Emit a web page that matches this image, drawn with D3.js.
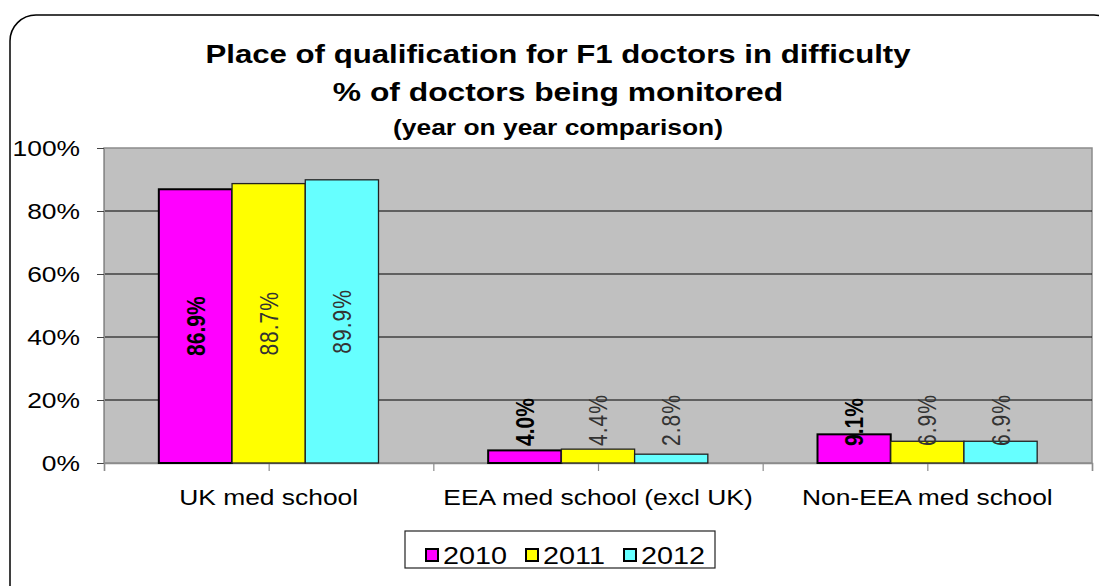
<!DOCTYPE html>
<html>
<head>
<meta charset="utf-8">
<script src="https://cdn.jsdelivr.net/npm/d3@7"></script>
<style>
  html, body { margin: 0; padding: 0; background: #fff; }
  text { font-family: "Liberation Sans", Arial, sans-serif; }
</style>
</head>
<body>
<div id="chart"></div>
<script>
// data
const categories = ["UK med school", "EEA med school (excl UK)", "Non-EEA med school"]
const years = ["2010", "2011", "2012"]
const values2010 = [86.9, 4.0, 9.1]
const values2011 = [88.7, 4.4, 6.9]
const values2012 = [89.9, 2.8, 6.9]
const yTicks = [0, 20, 40, 60, 80, 100]
const titleLines = ["Place of qualification for F1 doctors in difficulty", "% of doctors being monitored", "(year on year comparison)"]

const colors = {"2010": "#ff00ff", "2011": "#ffff00", "2012": "#66ffff"}
const series = {"2010": values2010, "2011": values2011, "2012": values2012}

const width = 1099
const height = 586
const margin = {top: 148, bottom: 123, left: 104, right: 7}
const sx = 1.2 // the original picture is stretched sideways

const svg = d3.select("div#chart").append("svg").attr("width", width).attr("height", height)

// outer frame
svg.append("rect")
    .attr("x", 10).attr("y", 15).attr("width", 1110).attr("height", 620)
    .attr("rx", 26).attr("ry", 26)
    .attr("fill", "none").attr("stroke", "#000").attr("stroke-width", 1.5)

// title
const titleSizes = [26, 26.5, 22]
const titleY = [63, 101, 135]
titleLines.forEach((t, i) => {
    svg.append("text")
        .attr("transform", `translate(558, ${titleY[i]}) scale(${sx},1)`)
        .attr("text-anchor", "middle")
        .attr("font-weight", "bold")
        .attr("font-size", titleSizes[i])
        .text(t)
})

const x0 = d3.scaleBand().domain(categories).range([margin.left, width - margin.right]).padding(0)
const groupW = x0.bandwidth() * 0.667
const x1 = d3.scaleBand().domain(years).range([0, groupW]).padding(0)
const y = d3.scaleLinear().domain([0, 100]).range([height - margin.bottom, margin.top])

// plot area
svg.append("rect")
    .attr("x", margin.left).attr("y", y(100))
    .attr("width", width - margin.right - margin.left).attr("height", y(0) - y(100))
    .attr("fill", "#c0c0c0").attr("stroke", "#8c8c8c").attr("stroke-width", 1.5)

// gridlines
svg.append("g").selectAll("line")
    .data(yTicks.filter(d => d > 0 && d < 100))
    .join("line")
    .attr("x1", margin.left).attr("x2", width - margin.right)
    .attr("y1", d => y(d)).attr("y2", d => y(d))
    .attr("stroke", "#000").attr("stroke-width", 1.2)

// y axis
const yAxisGroup = svg.append("g").attr("transform", `translate(${margin.left},0)`)
yAxisGroup.call(d3.axisLeft(y).tickValues(yTicks).tickSize(7).tickFormat(d => d + "%"))
yAxisGroup.select(".domain").attr("stroke", "#8c8c8c")
yAxisGroup.selectAll(".tick line").attr("stroke", "#444")
yAxisGroup.selectAll(".tick text")
    .attr("x", -20).attr("dy", "0.36em")
    .attr("transform", `scale(${sx},1)`)
    .attr("font-size", 22).attr("fill", "#000")
    .style("font-family", "'Liberation Sans', Arial, sans-serif")

// x axis ticks at category edges and centres
const xi = d3.scaleLinear().domain([0, categories.length]).range([margin.left, width - margin.right])
const xAxisGroup = svg.append("g").attr("transform", `translate(0, ${y(0)})`)
xAxisGroup.call(d3.axisBottom(xi).tickValues(d3.range(0, categories.length + 0.5, 0.5)).tickSize(8).tickFormat(""))
xAxisGroup.select(".domain").attr("stroke", "#8c8c8c").attr("stroke-width", 1.5)
xAxisGroup.selectAll(".tick line").attr("stroke", "#8c8c8c").attr("stroke-width", 1.2)

// category labels
svg.append("g").selectAll("text")
    .data(categories)
    .join("text")
    .attr("transform", d => `translate(${x0(d) + x0.bandwidth() / 2}, 505) scale(${sx},1)`)
    .attr("text-anchor", "middle")
    .attr("font-size", 22)
    .text(d => d)

// bars
const groups = svg.append("g").selectAll("g")
    .data(categories)
    .join("g")
    .attr("transform", d => `translate(${x0(d) + (x0.bandwidth() - groupW) / 2},0)`)

groups.selectAll("rect")
    .data((c, i) => years.map(yr => ({year: yr, value: series[yr][i]})))
    .join("rect")
    .attr("x", d => x1(d.year))
    .attr("y", d => y(d.value))
    .attr("width", x1.bandwidth())
    .attr("height", d => y(0) - y(d.value))
    .attr("fill", d => colors[d.year])
    .attr("stroke", d => d.year == "2010" ? "#000" : "#222")
    .attr("stroke-width", d => d.year == "2010" ? 2 : 1.3)

// value labels (rotated)
groups.selectAll("text.val")
    .data((c, i) => years.map(yr => ({year: yr, value: series[yr][i]})))
    .join("text")
    .attr("class", "val")
    .attr("font-size", 21)
    .attr("font-weight", d => d.year == "2010" ? "bold" : "normal")
    .attr("fill", d => d.year == "2010" ? "#000" : "#333")
    .attr("letter-spacing", d => d.year == "2010" ? 0 : 1)
    .attr("text-anchor", "start")
    .attr("dy", "0.36em")
    .text(d => d.value.toFixed(1) + "%")
    .each(function(d) {
        const len = this.getComputedTextLength()
        const cx = x1(d.year) + x1.bandwidth() / 2
        const startY = Math.min(y(d.value / 2) + len / 2, y(0) - 17)
        d3.select(this).attr("transform", `translate(${cx}, ${startY}) scale(${sx},1) rotate(-90)`)
    })

// legend
const legend = svg.append("g")
legend.append("rect")
    .attr("x", 405).attr("y", 531).attr("width", 310).attr("height", 37)
    .attr("fill", "#fff").attr("stroke", "#222").attr("stroke-width", 1.2)
const legendX = [426, 526, 624]
years.forEach((yr, i) => {
    legend.append("rect")
        .attr("x", legendX[i]).attr("y", 549).attr("width", 12).attr("height", 12)
        .attr("fill", colors[yr]).attr("stroke", "#000").attr("stroke-width", 2)
    legend.append("text")
        .attr("transform", `translate(${legendX[i] + 17}, 564) scale(${sx},1)`)
        .attr("font-size", 24)
        .text(yr)
})
</script>
</body>
</html>
